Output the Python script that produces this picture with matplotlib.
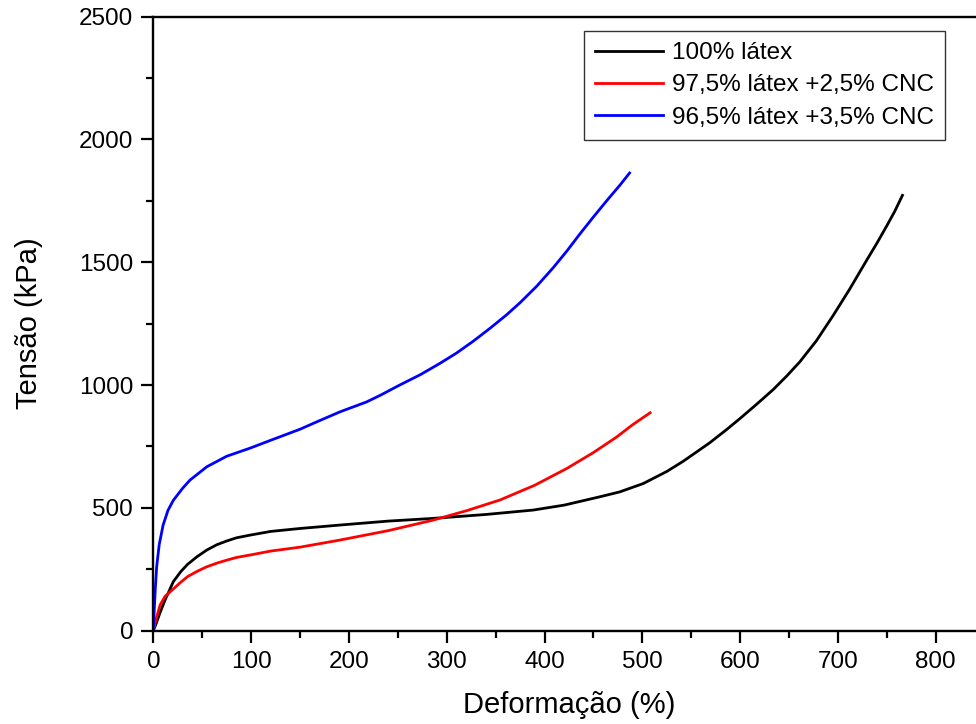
import matplotlib
matplotlib.use("Agg")
import matplotlib.pyplot as plt
from matplotlib.ticker import MultipleLocator

plt.rcParams['font.family'] = ['Liberation Sans', 'DejaVu Sans']

# Ensaio de tração: deformação (%) x tensão (kPa)
def_latex = [0, 3, 7, 12, 20.5, 28, 35, 45, 54.6, 65, 75, 85, 98.9, 120, 150,
             191, 240, 286, 340, 388.5, 420, 456.6, 477, 501, 525, 542, 569,
             586, 600, 617, 634, 648, 661, 678, 695, 712, 729, 740, 750, 758,
             766]
ten_latex = [0, 30, 75, 125, 200, 240, 270, 302, 328, 350, 365, 378, 389, 404,
             416, 430, 446, 457, 473, 491, 511, 545, 565, 599, 648, 690, 765,
             818, 864, 922, 982, 1038, 1094, 1180, 1282, 1390, 1505, 1578, 1648,
             1706, 1772]

def_cnc25 = [0, 3, 7, 12, 20.5, 28, 35, 45, 54.6, 65, 75, 85, 98.9, 120, 150,
             191, 240, 286, 320, 354.5, 390, 422.7, 450, 474, 490, 508]
ten_cnc25 = [0, 50, 105, 140, 170, 197, 220, 242, 260, 275, 287, 298, 308, 324,
             340, 369, 407, 450, 488, 532, 592, 660, 725, 789, 838, 887]

def_cnc35 = [0, 1, 2, 3.4, 6, 10, 15, 20.5, 30, 37.5, 54.6, 75, 98.9, 120, 150,
             170, 191, 218, 232, 252, 273, 293, 310, 327, 344, 361, 375, 392,
             409, 423, 436, 450, 464, 477, 487]
ten_cnc35 = [0, 90, 170, 260, 350, 430, 490, 531, 580, 613, 667, 710, 743, 775,
             820, 855, 891, 931, 958, 1000, 1042, 1088, 1130, 1178, 1230, 1285,
             1335, 1402, 1478, 1546, 1614, 1684, 1752, 1813, 1863]

rotulos = ['100% látex', '97,5% látex +2,5% CNC', '96,5% látex +3,5% CNC']
cores = ['#000000', '#ff0000', '#0000ff']

fig = plt.figure(figsize=(9.76, 7.24), dpi=100)
ax = fig.add_axes([0.1571, 0.1289, 0.8517, 0.8483])

ax.plot(def_latex, ten_latex, color=cores[0], lw=2.0, label=rotulos[0])
ax.plot(def_cnc25, ten_cnc25, color=cores[1], lw=2.0, label=rotulos[1])
ax.plot(def_cnc35, ten_cnc35, color=cores[2], lw=2.0, label=rotulos[2])

ax.set_xlim(0, 850)
ax.set_ylim(0, 2500)
ax.xaxis.set_major_locator(MultipleLocator(100))
ax.xaxis.set_minor_locator(MultipleLocator(50))
ax.yaxis.set_major_locator(MultipleLocator(500))
ax.yaxis.set_minor_locator(MultipleLocator(250))
ax.tick_params(which='major', direction='out', length=8.5, width=1.6,
               labelsize=17.5, pad=6)
ax.tick_params(which='minor', direction='out', length=4.8, width=1.6)
ax.tick_params(top=False, right=False, which='both')
for s in ax.spines.values():
    s.set_linewidth(1.7)

ax.set_xlabel('Deformação (%)', fontsize=21, labelpad=13)
ax.set_ylabel('Tensão (kPa)', fontsize=21, labelpad=26)

leg = ax.legend(loc='upper right', bbox_to_anchor=(0.952, 0.976),
                borderaxespad=0, fontsize=17.5, handlelength=2.8,
                handletextpad=0.35, labelspacing=0.42, borderpad=0.45,
                fancybox=False, framealpha=1, edgecolor='#333333')
leg.get_frame().set_linewidth(1.0)

fig.savefig('out.png', dpi=100)
